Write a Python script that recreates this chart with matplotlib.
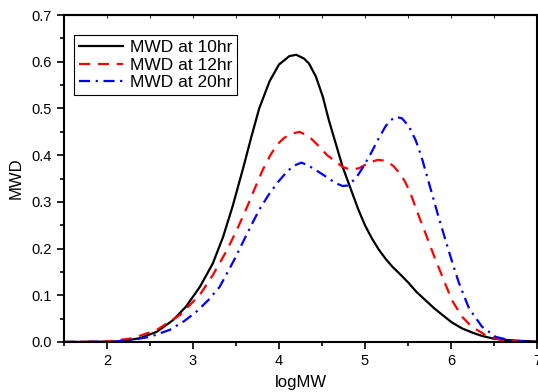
import matplotlib.pyplot as plt
from matplotlib.ticker import MultipleLocator

plt.rcParams['font.family'] = ['Liberation Sans', 'DejaVu Sans']

# MWD at 10hr
logmw_10 = [1.5, 2.0, 2.15, 2.38, 2.58, 2.77, 2.92, 3.08, 3.23, 3.35, 3.46, 3.58, 3.68, 3.77,
            3.89, 4.00, 4.12, 4.20, 4.29, 4.35, 4.43, 4.51, 4.58, 4.66, 4.74, 4.84, 4.92,
            5.00, 5.08, 5.16, 5.24, 5.32, 5.42, 5.51, 5.60, 5.70, 5.80, 5.90, 6.01, 6.13,
            6.25, 6.36, 6.50, 6.67, 6.85, 7.0]
mwd_10 = [0.0, 0.0005, 0.001, 0.008, 0.022, 0.047, 0.076, 0.118, 0.168, 0.225, 0.29, 0.37, 0.44, 0.50,
          0.558, 0.594, 0.612, 0.615, 0.607, 0.596, 0.568, 0.525, 0.475, 0.425, 0.375, 0.325, 0.285,
          0.250, 0.222, 0.198, 0.178, 0.161, 0.143, 0.126, 0.107, 0.090, 0.073, 0.058, 0.042, 0.029,
          0.020, 0.013, 0.007, 0.004, 0.002, 0.001]

# MWD at 12hr
logmw_12 = [1.5, 2.0, 2.30, 2.58, 2.85, 3.08, 3.23, 3.39, 3.50, 3.62, 3.71, 3.81, 3.90, 3.98,
            4.06, 4.15, 4.24, 4.35, 4.47, 4.56, 4.66, 4.74, 4.83, 4.93, 5.05, 5.15, 5.24,
            5.33, 5.41, 5.47, 5.53, 5.63, 5.72, 5.80, 5.90, 6.01, 6.13, 6.24, 6.40, 6.59,
            6.8, 7.0]
mwd_12 = [0.0, 0.001, 0.008, 0.026, 0.058, 0.101, 0.143, 0.195, 0.236, 0.285, 0.325, 0.368, 0.400, 0.423,
          0.437, 0.446, 0.450, 0.44, 0.418, 0.40, 0.386, 0.375, 0.369, 0.372, 0.384, 0.390, 0.388,
          0.377, 0.360, 0.342, 0.318, 0.268, 0.225, 0.186, 0.140, 0.090, 0.054, 0.033, 0.015, 0.004,
          0.001, 0.0]

# MWD at 20hr
logmw_20 = [1.5, 2.1, 2.30, 2.50, 2.73, 2.90, 3.04, 3.18, 3.31, 3.48, 3.64, 3.77, 3.89, 4.00,
            4.10, 4.18, 4.26, 4.33, 4.43, 4.58, 4.66, 4.74, 4.80, 4.85, 4.91, 4.97, 5.07,
            5.16, 5.24, 5.30, 5.36, 5.43, 5.51, 5.59, 5.66, 5.76, 5.84, 5.94, 6.02, 6.09,
            6.21, 6.36, 6.52, 6.70, 6.95]
mwd_20 = [0.0, 0.001, 0.005, 0.011, 0.026, 0.045, 0.065, 0.09, 0.118, 0.176, 0.236, 0.283, 0.318, 0.345,
          0.366, 0.378, 0.384, 0.379, 0.368, 0.350, 0.340, 0.334, 0.335, 0.343, 0.355, 0.372, 0.404,
          0.436, 0.462, 0.475, 0.482, 0.479, 0.462, 0.432, 0.395, 0.330, 0.278, 0.216, 0.168, 0.128,
          0.072, 0.033, 0.011, 0.003, 0.0]

fig = plt.figure(figsize=(5.38, 3.92), dpi=100)
ax = fig.add_axes([0.119, 0.1276, 0.879, 0.834])

ax.plot(logmw_10, mwd_10, color='black', lw=1.6, label='MWD at 10hr')
ax.plot(logmw_12, mwd_12, color='red', lw=1.6, dashes=(5, 3.5), label='MWD at 12hr')
ax.plot(logmw_20, mwd_20, color='blue', lw=1.6, dashes=(5, 2.5, 1, 2.5), label='MWD at 20hr')

ax.set_xlim(1.5, 7)
ax.set_ylim(0, 0.7)
ax.xaxis.set_major_locator(MultipleLocator(1))
ax.xaxis.set_minor_locator(MultipleLocator(0.5))
ax.yaxis.set_major_locator(MultipleLocator(0.1))
ax.yaxis.set_minor_locator(MultipleLocator(0.05))
ax.yaxis.set_major_formatter(plt.FormatStrFormatter('%.1f'))

for s in ax.spines.values():
    s.set_linewidth(1.5)
ax.tick_params(which='both', direction='out', width=1.2, labelsize=10.5, top=False, right=False)
ax.tick_params(which='major', length=5)
ax.tick_params(which='minor', length=3)
sec = ax.secondary_xaxis('top')
sec.set_xticks([2, 2.5, 3, 3.5, 4, 4.5, 5, 5.5, 6, 6.5])
sec.tick_params(direction='in', length=2, width=0.6, labeltop=False)
sec.spines['top'].set_linewidth(1.5)

ax.set_xlabel('logMW', fontsize=12, labelpad=5)
ax.set_ylabel('MWD', fontsize=12, labelpad=6)

leg = ax.legend(loc='upper left', bbox_to_anchor=(0.021, 0.939), fontsize=12.5,
                fancybox=False, framealpha=1, edgecolor='black', handlelength=2.5,
                borderpad=0.3, labelspacing=0.12, handletextpad=0.4, borderaxespad=0)
leg.get_frame().set_linewidth(0.8)

fig.savefig('out.png', dpi=100)
